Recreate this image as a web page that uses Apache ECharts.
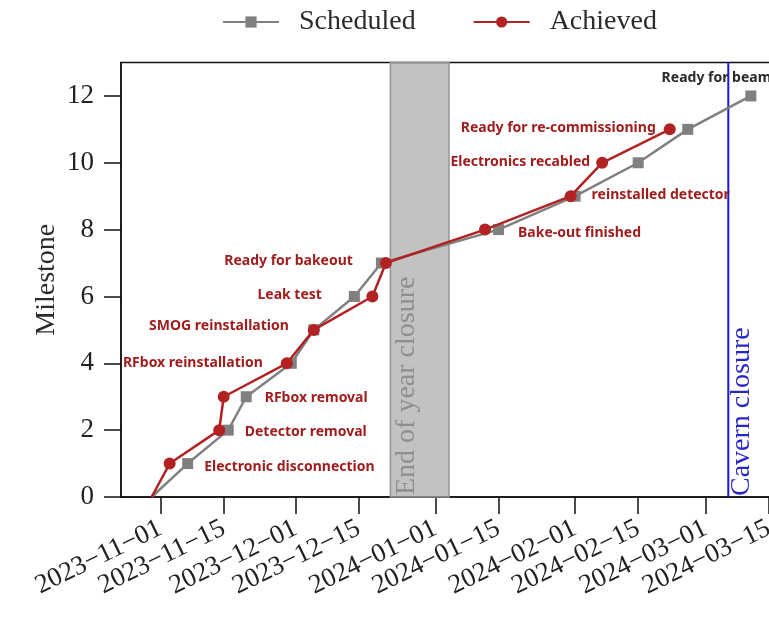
<!DOCTYPE html>
<html>
<head>
<meta charset="utf-8">
<script src="https://cdn.jsdelivr.net/npm/echarts@6/dist/echarts.min.js"></script>
<style>
  html, body { margin: 0; padding: 0; background: #ffffff; }
  #chart { width: 769px; height: 620px; }
</style>
</head>
<body>
<div id="chart"></div>
<script>
// Milestone names, indexed by milestone number
const milestones = [
  '',
  'Electronic disconnection',
  'Detector removal',
  'RFbox removal',
  'RFbox reinstallation',
  'SMOG reinstallation',
  'Leak test',
  'Ready for bakeout',
  'Bake-out finished',
  'reinstalled detector',
  'Electronics recabled',
  'Ready for re-commissioning',
  'Ready for beam'
];

// Planned schedule
const scheduledDates = [
  '2023-10-30', '2023-11-07', '2023-11-16', '2023-11-20', '2023-11-30',
  '2023-12-05', '2023-12-14', '2023-12-20', '2024-01-15', '2024-02-01',
  '2024-02-15', '2024-02-26', '2024-03-11'
];
const scheduledSteps = [0, 1, 2, 3, 4, 5, 6, 7, 8, 9, 10, 11, 12];

// What was actually done
const achievedDates = [
  '2023-10-30', '2023-11-03', '2023-11-14', '2023-11-15', '2023-11-29',
  '2023-12-05', '2023-12-18', '2023-12-21', '2024-01-12', '2024-01-31',
  '2024-02-07', '2024-02-22'
];
const achievedSteps = [0, 1, 2, 3, 4, 5, 6, 7, 8, 9, 10, 11];

// Site events
const yearEndClosure = ['2023-12-22', '2024-01-04'];
const cavernClosure = '2024-03-06';

// Axis ticks
const dateTicks = [
  '2023-11-01', '2023-11-15', '2023-12-01', '2023-12-15', '2024-01-01',
  '2024-01-15', '2024-02-01', '2024-02-15', '2024-03-01', '2024-03-15'
];
const milestoneTicks = [0, 2, 4, 6, 8, 10, 12];

const DAY = 86400000;
function ts(s) {
  const p = s.split('-').map(Number);
  return Date.UTC(p[0], p[1] - 1, p[2]);
}
function fmtDate(v) {
  const d = new Date(v);
  const mm = String(d.getUTCMonth() + 1).padStart(2, '0');
  const dd = String(d.getUTCDate()).padStart(2, '0');
  return d.getUTCFullYear() + '\u2212' + mm + '\u2212' + dd;
}

const SERIF = '"Liberation Serif", "DejaVu Serif", serif';
const SANS = '"Noto Sans", "Open Sans", sans-serif';
const RED = '#b22222';
const NOTE_RED = '#a11d1d';
const GREY = '#808080';

// Where each milestone note sits: carrying series, side of the marker, pixel nudge
const noteLayout = {
  1:  { on: 'sched', side: 'right', nudge: [11, 3] },
  2:  { on: 'sched', side: 'right', nudge: [11, 2] },
  3:  { on: 'sched', side: 'right', nudge: [13, 1] },
  4:  { on: 'ach',   side: 'left',  nudge: [-18, 0] },
  5:  { on: 'ach',   side: 'left',  nudge: [-19, -4] },
  6:  { on: 'sched', side: 'left',  nudge: [-27, -1] },
  7:  { on: 'sched', side: 'left',  nudge: [-23, -2] },
  8:  { on: 'sched', side: 'right', nudge: [14, 3] },
  9:  { on: 'sched', side: 'right', nudge: [11, -1] },
  10: { on: 'ach',   side: 'left',  nudge: [-6, -1] },
  11: { on: 'ach',   side: 'left',  nudge: [-8, -1] },
  12: { on: 'sched', side: 'left',  nudge: [26, -18], color: '#2a2a2a' }
};

function buildPoints(dates, steps, key) {
  return dates.map((d, i) => {
    const item = { value: [ts(d), steps[i]] };
    if (steps[i] === 0) item.symbol = 'none';
    const note = noteLayout[steps[i]];
    if (note && note.on === key) {
      item.label = {
        show: true,
        formatter: milestones[steps[i]],
        position: note.side,
        distance: 0,
        offset: note.nudge,
        color: note.color || NOTE_RED,
        fontFamily: SANS,
        fontWeight: 'bold',
        fontSize: 14
      };
    }
    return item;
  });
}

const chart = echarts.init(document.getElementById('chart'), null, { renderer: 'canvas' });

const option = {
  animation: false,
  backgroundColor: '#ffffff',
  grid: {
    left: 121, width: 651, top: 62.5, bottom: 123,
    outerBoundsMode: 'none', containLabel: false,
    show: true, borderColor: '#111', borderWidth: 1.5, backgroundColor: 'transparent'
  },
  legend: {
    data: ['Scheduled', 'Achieved'],
    left: 222, top: 8, padding: 0,
    itemWidth: 56, itemHeight: 14, itemGap: 57,
    textStyle: { fontFamily: SERIF, fontSize: 28, color: '#2b2b2b', padding: [0, 0, 0, 15] }
  },
  xAxis: {
    type: 'value',
    min: ts('2023-11-01') - 8.8 * DAY,
    max: ts('2024-03-15') + 0.7 * DAY,
    axisLine: { show: true, lineStyle: { color: '#111', width: 1.5 } },
    axisTick: {
      show: true, inside: false, length: 17,
      lineStyle: { color: '#111', width: 1.5 },
      customValues: dateTicks.map(ts)
    },
    axisLabel: {
      rotate: 26, margin: 30,
      fontFamily: SERIF, fontSize: 27, color: '#222',
      customValues: dateTicks.map(ts),
      formatter: v => fmtDate(v)
    },
    splitLine: { show: false }
  },
  yAxis: {
    type: 'value',
    min: 0, max: 13,
    name: 'Milestone', nameLocation: 'middle', nameGap: 60, nameRotate: 90,
    nameMoveOverlap: false,
    nameTextStyle: { fontFamily: SERIF, fontSize: 28, color: '#2b2b2b' },
    axisLine: { show: true, lineStyle: { color: '#111', width: 1.5 } },
    axisTick: {
      show: true, inside: false, length: 17,
      lineStyle: { color: '#111', width: 1.5 },
      customValues: milestoneTicks
    },
    axisLabel: {
      margin: 27, fontFamily: SERIF, fontSize: 27, color: '#222',
      customValues: milestoneTicks
    },
    splitLine: { show: false }
  },
  series: [
    {
      // year-end shutdown band
      type: 'custom',
      silent: true,
      z: 1,
      data: [[ts(yearEndClosure[0]), ts(yearEndClosure[1])]],
      encode: { x: [0, 1] },
      renderItem: function (params, api) {
        const cs = params.coordSys;
        const x0 = api.coord([api.value(0), 0])[0];
        const x1 = api.coord([api.value(1), 0])[0];
        return {
          type: 'group',
          children: [
            {
              type: 'rect',
              shape: { x: x0, y: cs.y, width: x1 - x0, height: cs.height },
              style: { fill: 'rgba(128,128,128,0.48)', stroke: '#949494', lineWidth: 1.5 }
            },
            {
              type: 'text',
              x: x0 + 16, y: cs.y + cs.height - 2,
              rotation: Math.PI / 2,
              style: {
                text: 'End of year closure',
                font: '28px ' + SERIF,
                fill: '#8e8e8e',
                align: 'left', verticalAlign: 'middle'
              }
            }
          ]
        };
      }
    },
    {
      // cavern closure marker
      type: 'custom',
      silent: true,
      z: 2,
      data: [[ts(cavernClosure)]],
      encode: { x: 0 },
      renderItem: function (params, api) {
        const cs = params.coordSys;
        const x = api.coord([api.value(0), 0])[0];
        return {
          type: 'group',
          children: [
            {
              type: 'line',
              shape: { x1: x, y1: cs.y, x2: x, y2: cs.y + cs.height },
              style: { stroke: '#1a1ad6', lineWidth: 2 }
            },
            {
              type: 'text',
              x: x + 13, y: cs.y + cs.height - 1,
              rotation: Math.PI / 2,
              style: {
                text: 'Cavern closure',
                font: '28px ' + SERIF,
                fill: '#2727c8',
                align: 'left', verticalAlign: 'middle'
              }
            }
          ]
        };
      }
    },
    {
      name: 'Scheduled',
      type: 'line',
      z: 3,
      showAllSymbol: true,
      symbol: 'rect',
      symbolSize: 11,
      itemStyle: { color: GREY },
      lineStyle: { color: GREY, width: 2.5 },
      data: buildPoints(scheduledDates, scheduledSteps, 'sched')
    },
    {
      name: 'Achieved',
      type: 'line',
      z: 4,
      showAllSymbol: true,
      symbol: 'circle',
      symbolSize: 12,
      itemStyle: { color: RED },
      lineStyle: { color: RED, width: 2.5 },
      data: buildPoints(achievedDates, achievedSteps, 'ach')
    }
  ]
};

chart.setOption(option);
</script>
</body>
</html>
